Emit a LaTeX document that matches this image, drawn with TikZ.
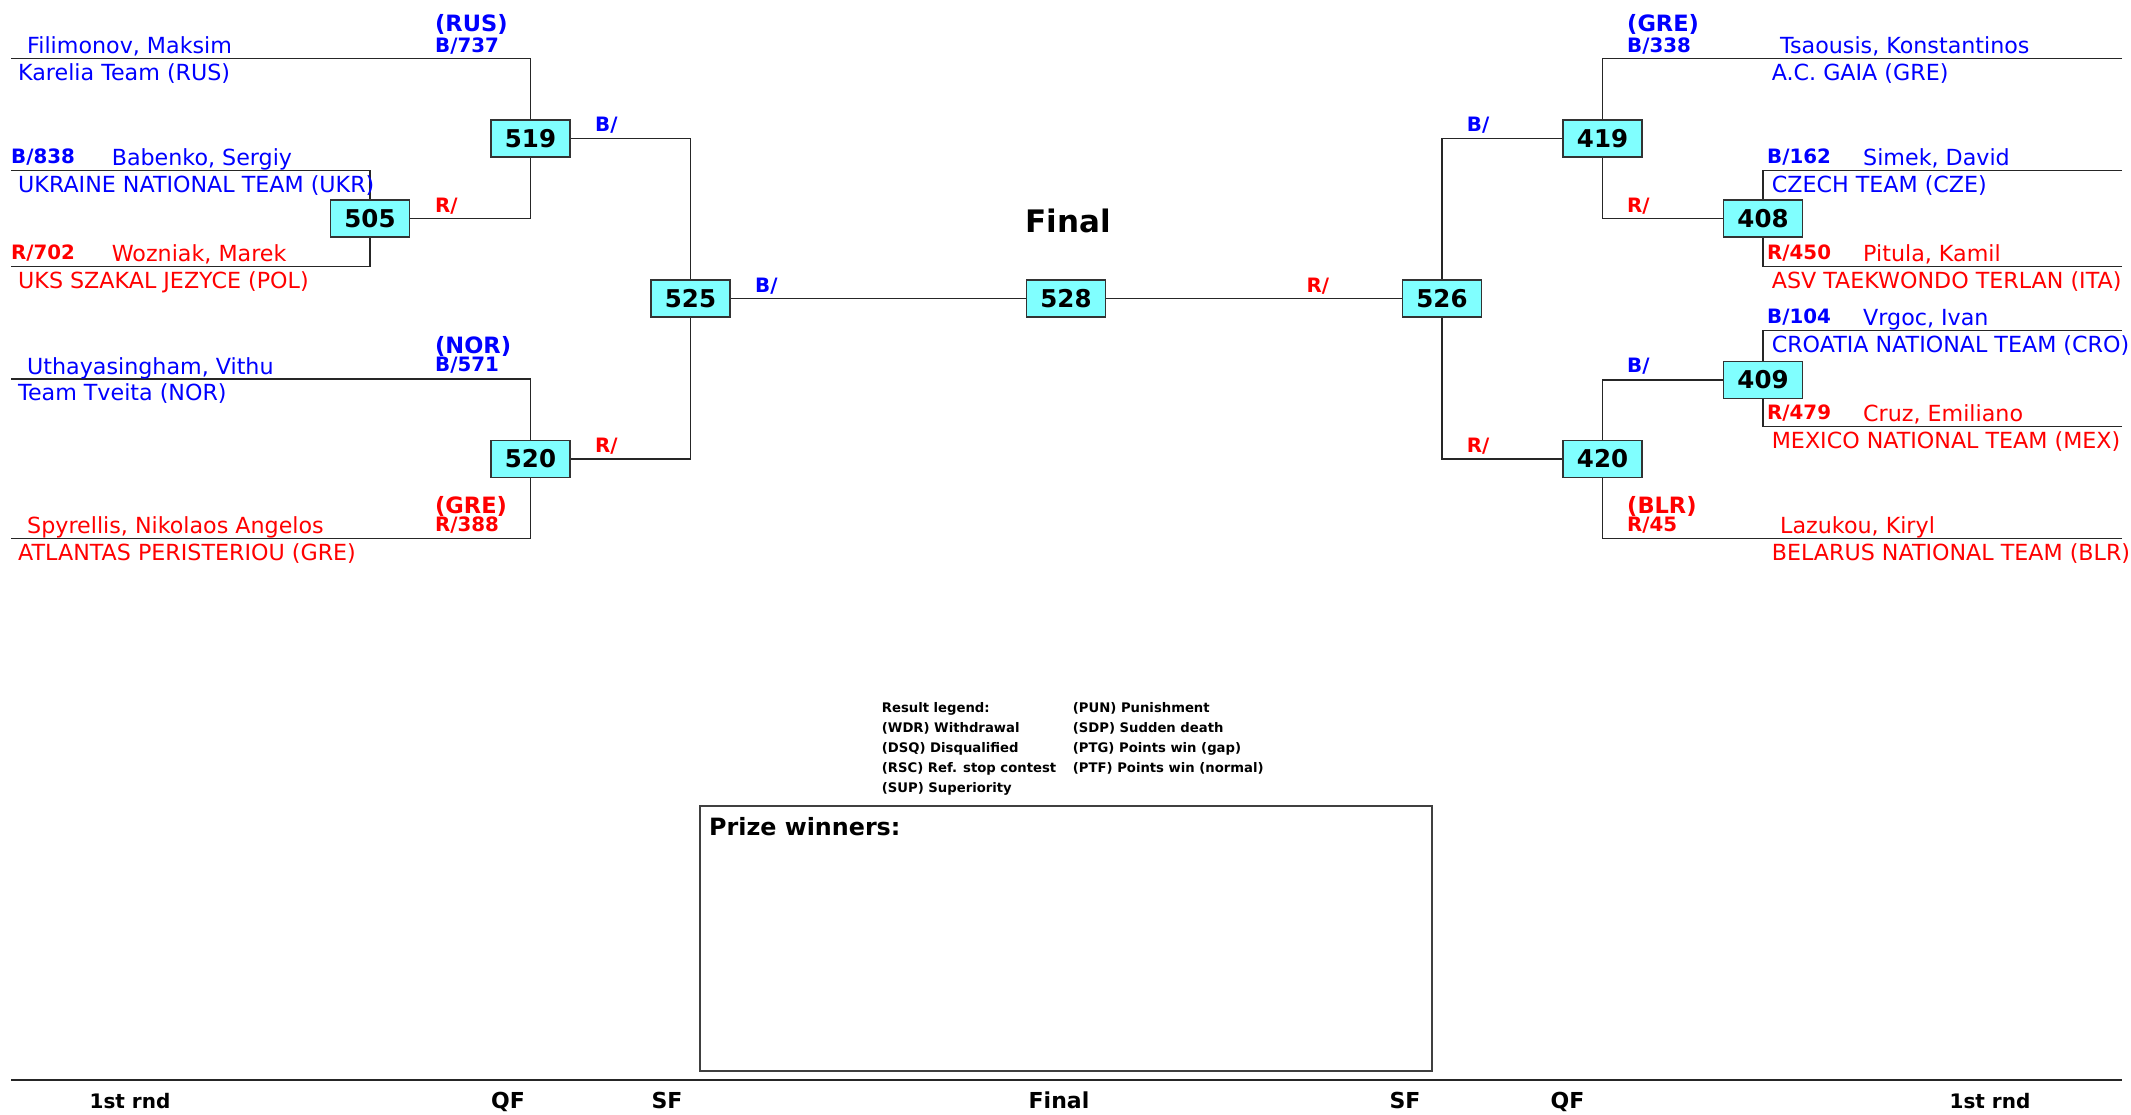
\documentclass[tikz,border=0pt]{standalone}
\usepackage{fontspec}
\setmainfont{DejaVu Sans}
\usepackage{tikz}
\tikzset{>=latex}
\definecolor{blu}{RGB}{0,0,255}
\definecolor{rd}{RGB}{255,0,0}
\definecolor{cyanbox}{RGB}{128,255,255}
\tikzset{
	match/.style={draw=black!80, fill=cyanbox, line width=1.3pt, minimum width=79pt, minimum height=37pt, inner sep=0pt, font=\fontsize{24.5}{24}\selectfont\bfseries},
	wire/.style={line width=1.3pt, black!85},
	who/.style={anchor=base west, inner sep=0pt, font=\fontsize{22.2}{22}\selectfont},
	tag/.style={anchor=base west, inner sep=0pt, font=\fontsize{19.8}{20}\selectfont\bfseries},
	nat/.style={anchor=base west, inner sep=0pt, font=\fontsize{22.5}{23}\selectfont\bfseries},
	legend/.style={anchor=base west, inner sep=0pt, font=\fontsize{13.2}{14}\selectfont\bfseries},
	rnd/.style={anchor=base, inner sep=0pt, font=\fontsize{22}{22}\selectfont\bfseries}
}
% #1 id, #2 colour, #3 x of name, #4 x of team, #5 y of line, #6 name, #7 team
\newcommand{\fighter}[7]{
	\node[who, text=#2] (#1n) at (#3, #5-5) {#6};
	\node[who, text=#2] (#1t) at (#4, #5+21.5) {#7};
}

\begin{document}
\begin{tikzpicture}[x=1pt, y=-1pt]
	\useasboundingbox (0,0) rectangle (2131,1114);
	% left half
	\node[match] (m519) at (530.5, 138.5) {519};
	\node[match] (m505) at (370, 218.5) {505};
	\node[match] (m520) at (530.5, 459) {520};
	\node[match] (m525) at (690.5, 298.5) {525};
	\node[match] (m528) at (1066, 298.5) {528};
	% right half
	\node[match] (m526) at (1442, 298.5) {526};
	\node[match] (m419) at (1602.5, 138.5) {419};
	\node[match] (m408) at (1763, 218.5) {408};
	\node[match] (m409) at (1763, 380) {409};
	\node[match] (m420) at (1602.5, 459) {420};

	\coordinate (rus) at (11, 58.7);
	\coordinate (ukr) at (11, 170.7);
	\coordinate (pol) at (11, 266.7);
	\coordinate (nor) at (11, 379);
	\coordinate (gre) at (11, 538.7);
	\coordinate (gaia) at (2122, 58.7);
	\coordinate (cze) at (2122, 170.7);
	\coordinate (ita) at (2122, 266.7);
	\coordinate (cro) at (2122, 330.7);
	\coordinate (mex) at (2122, 426.7);
	\coordinate (blr) at (2122, 538.7);

	\draw[wire] (rus) -| (m519);
	\draw[wire] (ukr) -| (m505);
	\draw[wire] (pol) -| (m505);
	\draw[wire] (m505) -| (m519);
	\draw[wire] (m519) -| (m525);
	\draw[wire] (nor) -| (m520);
	\draw[wire] (gre) -| (m520);
	\draw[wire] (m520) -| (m525);
	\draw[wire] (m525) -- (m528) -- (m526);
	\draw[wire] (gaia) -| (m419);
	\draw[wire] (cze) -| (m408);
	\draw[wire] (ita) -| (m408);
	\draw[wire] (m408) -| (m419);
	\draw[wire] (m419) -| (m526);
	\draw[wire] (cro) -| (m409);
	\draw[wire] (mex) -| (m409);
	\draw[wire] (m409) -| (m420);
	\draw[wire] (blr) -| (m420);
	\draw[wire] (m526) |- (m420);

	\fighter{filimonov}{blu}{27}{18}{58.7}{Filimonov, Maksim}{Karelia Team (RUS)}
	\fighter{babenko}{blu}{111.6}{18}{170.7}{Babenko, Sergiy}{UKRAINE NATIONAL TEAM (UKR)}
	\fighter{wozniak}{rd}{111.6}{18}{266.7}{Wozniak, Marek}{UKS SZAKAL JEZYCE (POL)}
	\fighter{uthaya}{blu}{27}{18}{379}{Uthayasingham, Vithu}{Team Tveita (NOR)}
	\fighter{spyrellis}{rd}{27}{18}{538.7}{Spyrellis, Nikolaos Angelos}{ATLANTAS PERISTERIOU (GRE)}
	\fighter{tsaousis}{blu}{1780}{1771.6}{58.7}{Tsaousis, Konstantinos}{A.C. GAIA (GRE)}
	\fighter{simek}{blu}{1863}{1771.6}{170.7}{Simek, David}{CZECH TEAM (CZE)}
	\fighter{pitula}{rd}{1863}{1771.6}{266.7}{Pitula, Kamil}{ASV TAEKWONDO TERLAN (ITA)}
	\fighter{vrgoc}{blu}{1863}{1771.6}{330.7}{Vrgoc, Ivan}{CROATIA NATIONAL TEAM (CRO)}
	\fighter{cruz}{rd}{1863}{1771.6}{426.7}{Cruz, Emiliano}{MEXICO NATIONAL TEAM (MEX)}
	\fighter{lazukou}{rd}{1780}{1771.6}{538.7}{Lazukou, Kiryl}{BELARUS NATIONAL TEAM (BLR)}

	\node[nat, text=blu] (nrus) at (435, 31.7) {(RUS)};
	\node[tag, text=blu] (t737) at (435, 52.3) {B/737};
	\node[tag, text=blu] (t838) at (11, 163.5) {B/838};
	\node[tag, text=rd] (t702) at (11, 259.5) {R/702};
	\node[nat, text=blu] (nnor) at (435, 353.3) {(NOR)};
	\node[tag, text=blu] (t571) at (435, 371.5) {B/571};
	\node[nat, text=rd] (ngre) at (435, 513) {(GRE)};
	\node[tag, text=rd] (t388) at (435, 531.7) {R/388};
	\node[tag, text=rd] (r505) at (435, 212) {R/};
	\node[tag, text=blu] (b519) at (595, 131.7) {B/};
	\node[tag, text=rd] (r520) at (595, 452) {R/};
	\node[tag, text=blu] (b525) at (755, 292) {B/};
	\node[tag, text=rd] (r526) at (1306.5, 292) {R/};
	\node[nat, text=blu] (ngaia) at (1627, 31.7) {(GRE)};
	\node[tag, text=blu] (t338) at (1627, 52.3) {B/338};
	\node[tag, text=blu] (b419) at (1466.7, 131.7) {B/};
	\node[tag, text=rd] (r408) at (1627, 212) {R/};
	\node[tag, text=blu] (t162) at (1767, 163.5) {B/162};
	\node[tag, text=rd] (t450) at (1767, 259.5) {R/450};
	\node[tag, text=blu] (t104) at (1767, 323.5) {B/104};
	\node[tag, text=blu] (b409) at (1627, 372.5) {B/};
	\node[tag, text=rd] (t479) at (1767, 419.5) {R/479};
	\node[tag, text=rd] (r420) at (1466.7, 452.5) {R/};
	\node[nat, text=rd] (nblr) at (1627, 513) {(BLR)};
	\node[tag, text=rd] (t45) at (1627, 531.7) {R/45};

	\node[anchor=base, inner sep=0pt, font=\fontsize{31}{31}\selectfont\bfseries] (final) at (1068, 232.3) {Final};

	% result legend
	\node[legend] (lg1) at (881.7, 712) {Result legend:};
	\node[legend] (lg2) at (881.7, 732) {(WDR) Withdrawal};
	\node[legend] (lg3) at (881.7, 752) {(DSQ) Disqualified};
	\node[legend] (lg4) at (881.7, 772) {(RSC) Ref. stop contest};
	\node[legend] (lg5) at (881.7, 792) {(SUP) Superiority};
	\node[legend] (lg6) at (1072.7, 712) {(PUN) Punishment};
	\node[legend] (lg7) at (1072.7, 732) {(SDP) Sudden death};
	\node[legend] (lg8) at (1072.7, 752) {(PTG) Points win (gap)};
	\node[legend] (lg9) at (1072.7, 772) {(PTF) Points win (normal)};

	\draw[line width=1.5pt, black!75] (700, 806) rectangle (1432, 1071);
	\node[anchor=base west, inner sep=0pt, font=\fontsize{23.8}{24}\selectfont\bfseries] (prize) at (709, 835) {Prize winners:};

	\draw[line width=2pt, black!85] (11, 1079.5) -- (2122, 1079.5);
	\node[rnd, font=\fontsize{20}{20}\selectfont\bfseries] (r1) at (130, 1108) {1st rnd};
	\node[rnd] (r2) at (508, 1108) {QF};
	\node[rnd] (r3) at (667, 1108) {SF};
	\node[rnd] (r4) at (1059, 1108) {Final};
	\node[rnd] (r5) at (1405, 1108) {SF};
	\node[rnd] (r6) at (1567.5, 1108) {QF};
	\node[rnd, font=\fontsize{20}{20}\selectfont\bfseries] (r7) at (1990, 1108) {1st rnd};
\end{tikzpicture}
\end{document}
